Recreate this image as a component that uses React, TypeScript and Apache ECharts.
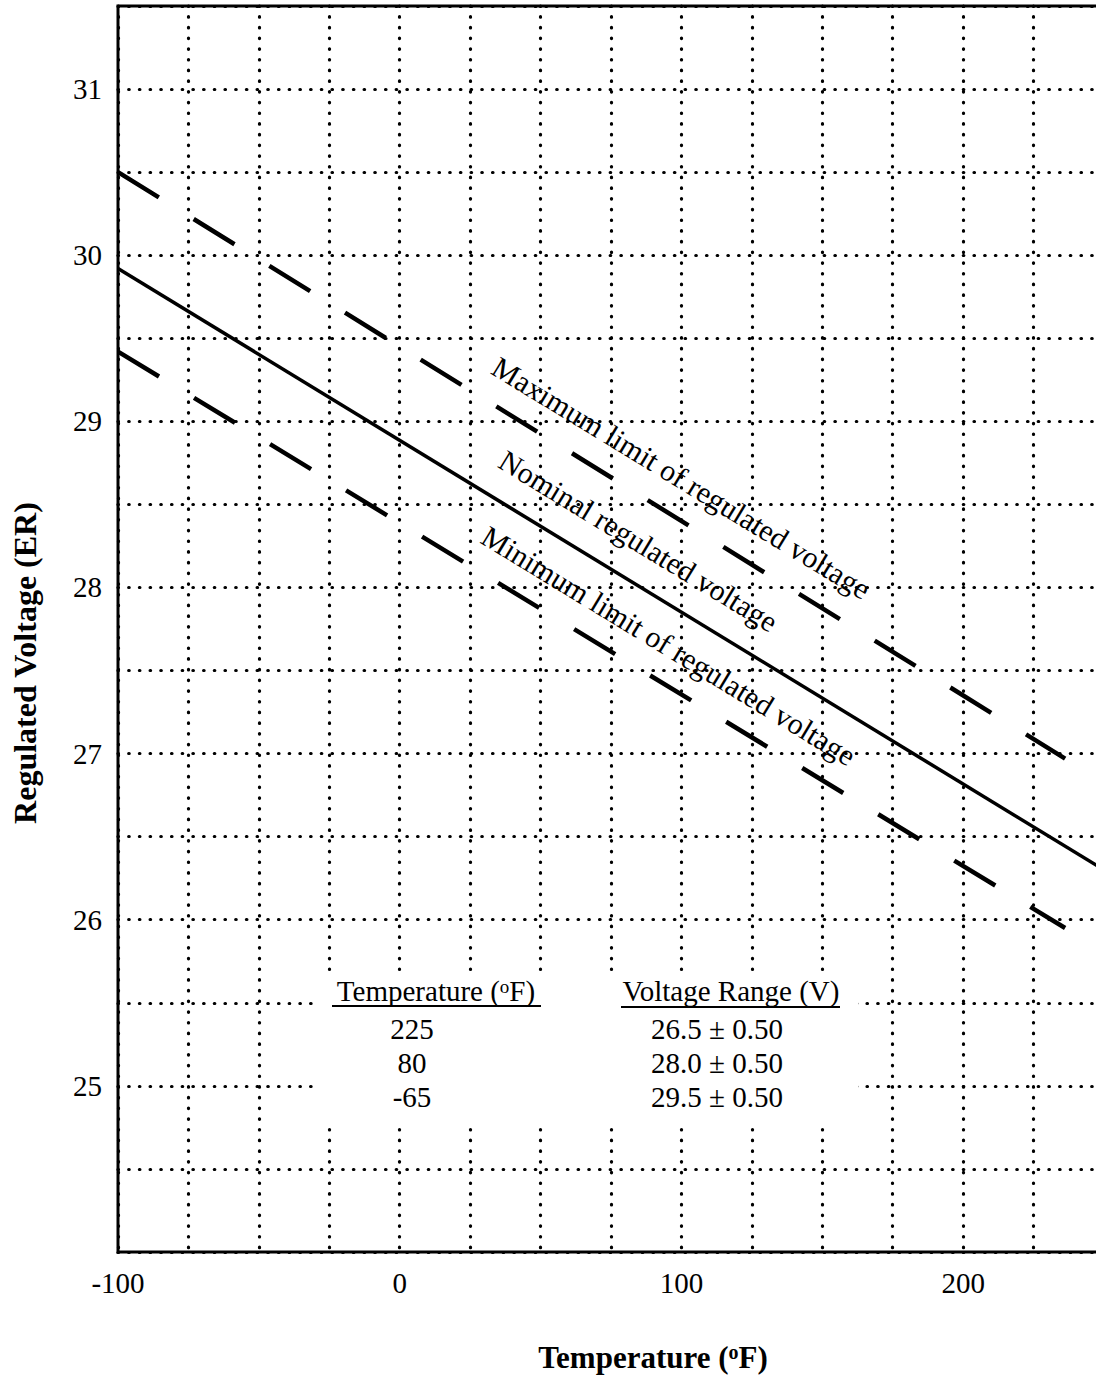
import React, { useEffect, useRef } from 'react';
import * as echarts from 'echarts';

const FONT = '"Liberation Serif", "Times New Roman", Times, serif';

// Axis tick labels
const xTickLabels = [-100, 0, 100, 200];
const yTickLabels = [25, 26, 27, 28, 29, 30, 31];

// Lines (temperature °F, voltage V)
const nominalLine = [[-100, 29.92], [250, 26.3]];
const maxLine = [[-100, 30.5], [236.2, 26.97]];
const minLine = [[-100, 29.42], [236.2, 25.95]];

// Line annotations (text and centre in data coordinates)
const lineLabelTexts = [
  'Maximum limit of regulated voltage',
  'Nominal regulated voltage',
  'Minimum limit of regulated voltage',
];
const lineLabelAt = [[100, 28.66], [84.8, 28.28], [95.5, 27.65]];

// Table
const tableTemps = ['225', '80', '-65'];
const tableRanges = ['26.5 \u00B1 0.50', '28.0 \u00B1 0.50', '29.5 \u00B1 0.50'];

const CHART_W = 1110;
const CHART_H = 1385;

export default function App() {
  const ref = useRef<HTMLDivElement>(null);

  useEffect(() => {
    const chart = echarts.init(ref.current as HTMLDivElement, null, { renderer: 'svg' });
    const dotted = { color: '#000', width: 3.2, type: [0.5, 10.2], cap: 'round' };

    chart.setOption({
      animation: false,
      backgroundColor: '#fff',
      grid: {
        left: 118,
        top: 6,
        right: CHART_W - 1104,
        bottom: 133,
        show: true,
        borderColor: '#000',
        borderWidth: 3,
        backgroundColor: 'transparent',
      },
      xAxis: {
        type: 'value',
        min: -100,
        max: 250,
        interval: 25,
        axisLine: { show: false },
        axisTick: { show: false },
        axisLabel: {
          showMinLabel: true,
          margin: 16,
          color: '#000',
          fontFamily: FONT,
          fontSize: 29,
          formatter: (v: number) => (xTickLabels.includes(v) ? String(v) : ''),
        },
        splitLine: { show: true, lineStyle: dotted },
      },
      yAxis: {
        type: 'value',
        min: 24,
        max: 31.5,
        interval: 0.5,
        axisLine: { show: false },
        axisTick: { show: false },
        axisLabel: {
          margin: 16,
          color: '#000',
          fontFamily: FONT,
          fontSize: 29,
          formatter: (v: number) => (yTickLabels.includes(v) ? String(v) : ''),
        },
        splitLine: { show: true, lineStyle: dotted },
      },
      series: [
        {
          type: 'line',
          name: 'Nominal regulated voltage',
          data: nominalLine,
          symbol: 'none',
          silent: true,
          lineStyle: { color: '#000', width: 3.5 },
          z: 3,
        },
        {
          type: 'line',
          name: 'Maximum limit of regulated voltage',
          data: maxLine,
          symbol: 'none',
          silent: true,
          lineStyle: { color: '#000', width: 4.5, type: [48, 41], cap: 'butt' },
          z: 3,
        },
        {
          type: 'line',
          name: 'Minimum limit of regulated voltage',
          data: minLine,
          symbol: 'none',
          silent: true,
          lineStyle: { color: '#000', width: 4.5, type: [48, 41], cap: 'butt' },
          z: 3,
        },
      ],
    });

    const toPx = (p: number[]) => chart.convertToPixel({ gridIndex: 0 }, p) as number[];
    const a = toPx(nominalLine[0]);
    const b = toPx(nominalLine[1]);
    const angle = Math.atan2(b[1] - a[1], b[0] - a[0]);

    const supRich = (size: number, weight: string) => ({
      sup: { fontSize: size, fontFamily: FONT, fontWeight: weight, verticalAlign: 'top', fill: '#000' },
    });

    const graphics: any[] = [];

    lineLabelTexts.forEach((t, i) => {
      const p = toPx(lineLabelAt[i]);
      graphics.push({
        type: 'text',
        x: p[0],
        y: p[1],
        rotation: -angle,
        z: 20,
        style: {
          text: t,
          fill: '#000',
          fontFamily: FONT,
          fontSize: 30,
          align: 'center',
          verticalAlign: 'middle',
        },
      });
    });

    // table background
    graphics.push({
      type: 'rect',
      z: 15,
      shape: { x: 316, y: 974, width: 542, height: 150 },
      style: { fill: '#fff' },
    });
    graphics.push({
      type: 'text',
      z: 20,
      x: 436,
      y: 991,
      style: {
        text: 'Temperature ({sup|o}F)',
        fill: '#000',
        fontFamily: FONT,
        fontSize: 29,
        align: 'center',
        verticalAlign: 'middle',
        rich: supRich(19, 'normal'),
      },
    });
    graphics.push({
      type: 'text',
      z: 20,
      x: 731,
      y: 991,
      style: {
        text: 'Voltage Range (V)',
        fill: '#000',
        fontFamily: FONT,
        fontSize: 29,
        align: 'center',
        verticalAlign: 'middle',
      },
    });
    graphics.push({
      type: 'line',
      z: 20,
      shape: { x1: 332, y1: 1006, x2: 541, y2: 1006 },
      style: { stroke: '#000', lineWidth: 2 },
    });
    graphics.push({
      type: 'line',
      z: 20,
      shape: { x1: 621, y1: 1007, x2: 840, y2: 1007 },
      style: { stroke: '#000', lineWidth: 2 },
    });
    const rowY = [1029, 1063, 1097];
    tableTemps.forEach((t, i) => {
      graphics.push({
        type: 'text',
        z: 20,
        x: 412,
        y: rowY[i],
        style: { text: t, fill: '#000', fontFamily: FONT, fontSize: 29, align: 'center', verticalAlign: 'middle' },
      });
    });
    tableRanges.forEach((t, i) => {
      graphics.push({
        type: 'text',
        z: 20,
        x: 717,
        y: rowY[i],
        style: { text: t, fill: '#000', fontFamily: FONT, fontSize: 29, align: 'center', verticalAlign: 'middle' },
      });
    });

    // axis titles
    graphics.push({
      type: 'text',
      z: 20,
      x: 25,
      y: 663,
      rotation: Math.PI / 2,
      style: {
        text: 'Regulated Voltage (ER)',
        fill: '#000',
        fontFamily: FONT,
        fontSize: 32,
        fontWeight: 'bold',
        align: 'center',
        verticalAlign: 'middle',
      },
    });
    graphics.push({
      type: 'text',
      z: 20,
      x: 653,
      y: 1357,
      style: {
        text: 'Temperature ({sup|o}F)',
        fill: '#000',
        fontFamily: FONT,
        fontSize: 31,
        fontWeight: 'bold',
        align: 'center',
        verticalAlign: 'middle',
        rich: supRich(20, 'bold'),
      },
    });

    chart.setOption({ graphic: graphics });

    return () => chart.dispose();
  }, []);

  return (
    <div style={{ position: 'absolute', left: 0, top: 0, width: 1096, height: CHART_H, overflow: 'hidden' }}>
      <div ref={ref} style={{ width: CHART_W, height: CHART_H }} />
    </div>
  );
}
